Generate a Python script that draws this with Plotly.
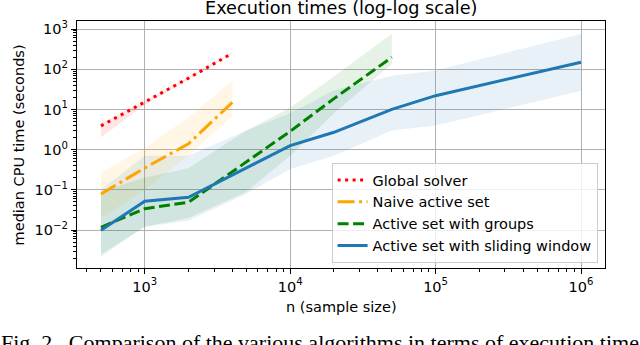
import plotly.graph_objects as go

# sample sizes used by each method
n_global = [500, 1000, 2000, 4000]
n_naive = [500, 1000, 2000, 4000]
n_groups = [500, 1000, 2000, 5000, 10000, 20000, 50000]
n_window = [500, 1000, 2000, 5000, 10000, 20000, 50000, 100000, 1000000]

# median CPU time (seconds) and spread (low / high)
t_global = [3.9, 15, 60, 250]
t_global_lo = [2.0, 13, 55, 240]
t_global_hi = [4.5, 16, 65, 260]

t_naive = [0.079, 0.35, 1.4, 15]
t_naive_lo = [0.02, 0.1, 0.7, 7]
t_naive_hi = [0.27, 1.1, 6.4, 52]

t_groups = [0.0117, 0.034, 0.049, 0.5, 2.85, 18.6, 198]
t_groups_lo = [0.0022, 0.012, 0.02, 0.09, 0.7, 8, 135]
t_groups_hi = [0.09, 0.2, 0.35, 3, 11, 66, 760]

t_window = [0.0098, 0.052, 0.065, 0.35, 1.26, 2.7, 10, 22, 149]
t_window_lo = [0.0025, 0.012, 0.017, 0.08, 0.33, 0.7, 3, 4, 29]
t_window_hi = [0.1, 0.7, 0.7, 3, 8, 30, 69, 93, 750]

labels = ["Global solver", "Naive active set", "Active set with groups",
          "Active set with sliding window"]

x_ticks = [1e3, 1e4, 1e5, 1e6]
x_ticktext = ["10<sup>3</sup>", "10<sup>4</sup>", "10<sup>5</sup>", "10<sup>6</sup>"]
y_ticks = [1e-2, 1e-1, 1e0, 1e1, 1e2, 1e3]
y_ticktext = ["10<sup>\u22122</sup>", "10<sup>\u22121</sup>", "10<sup>0</sup>",
              "10<sup>1</sup>", "10<sup>2</sup>", "10<sup>3</sup>"]

series = [
    (n_global, t_global, t_global_lo, t_global_hi, "#ff0000", "rgba(255,0,0,0.1)", "3px,4.5px"),
    (n_naive, t_naive, t_naive_lo, t_naive_hi, "#ffa500", "rgba(255,165,0,0.1)", "17px,4.5px,3px,4.5px"),
    (n_groups, t_groups, t_groups_lo, t_groups_hi, "#008000", "rgba(0,128,0,0.1)", "11px,4.5px"),
    (n_window, t_window, t_window_lo, t_window_hi, "#1f77b4", "rgba(31,119,180,0.1)", "solid"),
]

fig = go.Figure()

# shaded spread bands
for n, t, lo, hi, col, fillcol, dash in series:
    fig.add_trace(go.Scatter(
        x=n + n[::-1], y=hi + lo[::-1],
        fill="toself", fillcolor=fillcol,
        line=dict(width=0), mode="lines",
        showlegend=False, hoverinfo="skip"
    ))

# median lines
for (n, t, lo, hi, col, fillcol, dash), name in zip(series, labels):
    fig.add_trace(go.Scatter(
        x=n, y=t, mode="lines", name=name,
        line=dict(color=col, width=3, dash=dash)
    ))

# minor tick positions (2..9 within each decade)
x_minor = [m * 10 ** d for d in range(2, 7) for m in range(2, 10)]
y_minor = [m * 10 ** d for d in range(-3, 4) for m in range(2, 10)]

font = "DejaVu Sans"

fig.update_xaxes(
    type="log", range=[2.534, 6.165],
    tickmode="array", tickvals=x_ticks, ticktext=x_ticktext,
    ticks="outside", ticklen=5, tickwidth=1.2, tickcolor="black",
    showgrid=True, gridcolor="#b0b0b0", gridwidth=1,
    showline=True, linecolor="black", linewidth=1.2, mirror=True,
    minor=dict(tickmode="array", tickvals=x_minor, ticks="outside",
               ticklen=3, tickwidth=0.9, tickcolor="black", showgrid=False),
    tickfont=dict(size=14.5, color="black"), zeroline=False
)
fig.update_yaxes(
    type="log", range=[-2.945, 3.2],
    tickmode="array", tickvals=y_ticks, ticktext=y_ticktext,
    ticks="outside", ticklen=5, tickwidth=1.2, tickcolor="black",
    showgrid=True, gridcolor="#b0b0b0", gridwidth=1,
    showline=True, linecolor="black", linewidth=1.2, mirror=True,
    minor=dict(tickmode="array", tickvals=y_minor, ticks="outside",
               ticklen=3, tickwidth=0.9, tickcolor="black", showgrid=False),
    tickfont=dict(size=14.5, color="black"), zeroline=False
)

fig.update_layout(
    width=640, height=345,
    margin=dict(l=77, r=35, t=21, b=77),
    plot_bgcolor="white", paper_bgcolor="white",
    font=dict(family=font, size=14.5, color="black"),
    legend=dict(
        x=0.986, y=0.02, xanchor="right", yanchor="bottom",
        bgcolor="rgba(255,255,255,0.8)", bordercolor="#cccccc", borderwidth=1,
        font=dict(size=14.5), tracegroupgap=0, itemwidth=30
    ),
    showlegend=True,
    annotations=[
        dict(text="Execution times (log-log scale)", xref="paper", yref="paper",
             x=0.5, y=1.003, xanchor="center", yanchor="bottom",
             showarrow=False, font=dict(size=17.7)),
        dict(text="n (sample size)", xref="paper", yref="paper",
             x=0.5, y=-0.158, xanchor="center", yanchor="middle",
             showarrow=False, font=dict(size=14.5)),
        dict(text="median CPU time (seconds)", xref="paper", yref="paper",
             x=-0.110, y=0.5, xanchor="center", yanchor="middle", textangle=-90,
             showarrow=False, font=dict(size=14.5)),
        dict(text="Fig. 2.  Comparison of the various algorithms in terms of execution time.",
             xref="paper", yref="paper", x=-0.148, y=-0.241,
             xanchor="left", yanchor="top", showarrow=False,
             font=dict(family="Liberation Serif", size=22, color="black")),
    ],
)

# drop the browser's default body margin so the figure sits at the window corner
fig.write_html("out.html", config={"displayModeBar": False},
               post_script="document.body.style.margin='0';")
